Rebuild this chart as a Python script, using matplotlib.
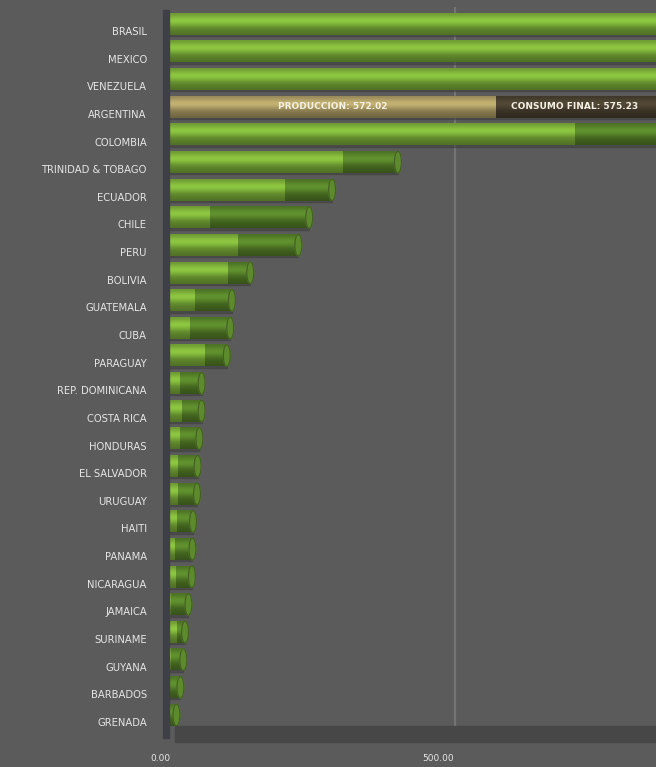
import numpy as np
import matplotlib.pyplot as plt
from matplotlib.patches import Ellipse, Rectangle
from matplotlib.colors import to_rgb
import matplotlib.transforms as mtransforms

# países ordenados de mayor a menor
paises = ['BRASIL', 'MEXICO', 'VENEZUELA', 'ARGENTINA', 'COLOMBIA',
          'TRINIDAD & TOBAGO', 'ECUADOR', 'CHILE', 'PERU', 'BOLIVIA',
          'GUATEMALA', 'CUBA', 'PARAGUAY', 'REP. DOMINICANA', 'COSTA RICA',
          'HONDURAS', 'EL SALVADOR', 'URUGUAY', 'HAITI', 'PANAMA',
          'NICARAGUA', 'JAMAICA', 'SURINAME', 'GUYANA', 'BARBADOS', 'GRENADA']
produccion = [1750, 1550, 1300, 572.02, 710,
              304, 203, 72, 121, 103,
              45, 37, 63, 19, 22,
              19, 16, 16, 14, 10,
              12, 4, 14, 3, 2, 1]
consumo = [1450, 800, 380, 575.23, 320,
           96, 82, 173, 105, 39,
           65, 70, 38, 38, 35,
           34, 34, 33, 28, 31,
           28, 30, 14, 22, 18, 12]
ticks = [0, 500]
tick_labels = ['0.00', '500.00']
resaltado = 'ARGENTINA'

fondo = '#5b5b5b'
verde_claro = '#86bc3e'
verde_oscuro = '#5c8a2c'
caqui = '#b9a86c'
marron = '#4e4433'


def cilindro(ax, y, left, width, color, alto):
    # degradado vertical para simular un cilindro
    base = np.array(to_rgb(color))
    t = np.linspace(0, 1, 40)
    brillo = 0.78 + 0.3 * np.exp(-((t - 0.35) / 0.25) ** 2) - 0.18 * t ** 2
    img = np.clip(base[None, :] * brillo[:, None], 0, 1)[:, None, :]
    ax.imshow(img, extent=(left, left + width, y + alto / 2, y - alto / 2),
              aspect='auto', origin='upper', interpolation='bilinear', zorder=3)


W, H = 656, 767
fig = plt.figure(figsize=(W / 100, H / 100), dpi=100, facecolor=fondo)

ax_l, ax_top, ax_bot = 169, 7.4, 726
ax = fig.add_axes([ax_l / W, 1 - ax_bot / H, 1 - ax_l / W, (ax_bot - ax_top) / H])
ax.set_facecolor(fondo)

# pared izquierda y piso
fig.patches.append(Rectangle((163 / W, 1 - 738 / H), 6 / W, 728 / H,
                             transform=fig.transFigure, color='#3f3f48', zorder=0))
fig.patches.append(Rectangle((175 / W, 1 - 742 / H), 1, 16 / H,
                             transform=fig.transFigure, color='#474747', zorder=0))

ax.axvline(500, color='#747474', lw=1.6, zorder=1)

alto = 0.78
xmax = 851
for i, (p, c) in enumerate(zip(produccion, consumo)):
    c1, c2 = (caqui, marron) if paises[i] == resaltado else (verde_claro, verde_oscuro)
    # sombra bajo la barra
    ax.add_patch(Rectangle((0, i + alto / 2 - 0.05), min(p + c, xmax), 0.1,
                           color='#3c3c3c', alpha=0.5, zorder=2))
    cilindro(ax, i, 0, p, c1, alto)
    cilindro(ax, i, p, c, c2, alto)
    total = p + c
    if total < xmax:
        ax.add_patch(Ellipse((total, i), 12, alto, color=c2, zorder=4))
        ax.add_patch(Ellipse((total, i), 12, alto, fill=False,
                             ec='#34421f', lw=0.8, alpha=0.6, zorder=4))

i_arg = paises.index(resaltado)
ax.text(produccion[i_arg] / 2, i_arg, 'PRODUCCION: %.2f' % produccion[i_arg],
        color='#f4f0e4', fontsize=6.5, fontweight='bold', ha='center', va='center', zorder=5)
ax.text(produccion[i_arg] + 26, i_arg, 'CONSUMO FINAL: %.2f' % consumo[i_arg],
        color='#f4f0e4', fontsize=6.5, fontweight='bold', ha='left', va='center',
        zorder=5, clip_on=True)

ax.set_xlim(0, xmax)
ax.set_ylim(len(paises) - 1 + 0.4, -0.6)
ax.set_yticks(range(len(paises)))
ax.set_yticklabels(paises, fontsize=7.2, color='#e6e6e6')
ax.tick_params(axis='y', length=0, pad=16)
baja = mtransforms.ScaledTranslation(0, -7 / 100, fig.dpi_scale_trans)
for lab in ax.get_yticklabels():
    lab.set_transform(lab.get_transform() + baja)

ax.set_xticks(ticks)
ax.set_xticklabels(tick_labels, fontsize=6.5, color='#e6e6e6')
ax.tick_params(axis='x', length=0, pad=20)
for lab, dx in zip(ax.get_xticklabels(), [-9, -17]):
    lab.set_transform(lab.get_transform() +
                      mtransforms.ScaledTranslation(dx / 100, 0, fig.dpi_scale_trans))

for s in ax.spines.values():
    s.set_visible(False)

fig.savefig('out.png', dpi=100, facecolor=fondo)
